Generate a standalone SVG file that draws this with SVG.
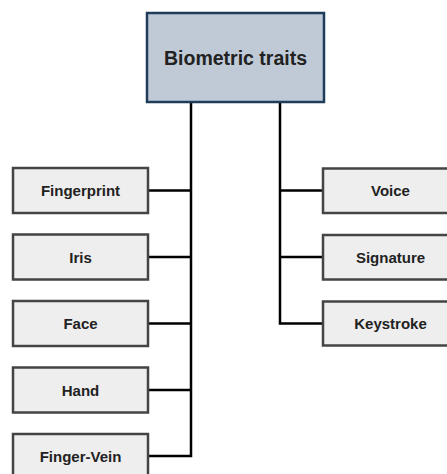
<svg xmlns="http://www.w3.org/2000/svg" width="447" height="474" viewBox="0 0 447 474">
  <style>
    .leaf rect { fill: #eeeeee; stroke: #444444; stroke-width: 2.5; }
    .root rect { fill: #bfcad6; stroke: #1f3d58; stroke-width: 2.5; }
    text { font-family: "Liberation Sans", Arial, sans-serif; font-weight: bold; fill: #222222; text-anchor: middle; }
    .leaf text { font-size: 15px; }
    .root text { font-size: 19.5px; }
    .wire { fill: none; stroke: #000000; stroke-width: 2.5; stroke-linejoin: miter; }
  </style>
  <rect width="447" height="474" fill="#ffffff"/>

  <g id="connectors">
    <path class="wire" d="M191 102 V456 H148"/>
    <path class="wire" d="M148 190.5 H191 M148 257 H191 M148 323.5 H191 M148 390 H191"/>
    <path class="wire" d="M280 102 V323.5 H323"/>
    <path class="wire" d="M280 190.5 H323 M280 257 H323"/>
  </g>

  <g id="biometric-traits" class="root">
    <rect x="147" y="13" width="177" height="89"/>
    <text x="235.5" y="64.5">Biometric traits</text>
  </g>

  <g id="fingerprint" class="leaf">
    <rect x="13" y="168" width="135" height="45"/>
    <text x="80.5" y="196">Fingerprint</text>
  </g>
  <g id="iris" class="leaf">
    <rect x="13" y="234.5" width="135" height="45"/>
    <text x="80.5" y="262.5">Iris</text>
  </g>
  <g id="face" class="leaf">
    <rect x="13" y="301" width="135" height="45"/>
    <text x="80.5" y="329">Face</text>
  </g>
  <g id="hand" class="leaf">
    <rect x="13" y="367.5" width="135" height="45"/>
    <text x="80.5" y="395.5">Hand</text>
  </g>
  <g id="finger-vein" class="leaf">
    <rect x="13" y="434" width="135" height="45"/>
    <text x="80.5" y="461.5">Finger-Vein</text>
  </g>

  <g id="voice" class="leaf">
    <rect x="323" y="168.5" width="135" height="44.5"/>
    <text x="390.5" y="196">Voice</text>
  </g>
  <g id="signature" class="leaf">
    <rect x="323" y="235" width="135" height="44.5"/>
    <text x="390.5" y="262.5">Signature</text>
  </g>
  <g id="keystroke" class="leaf">
    <rect x="323" y="301.5" width="135" height="44"/>
    <text x="390.5" y="329">Keystroke</text>
  </g>
</svg>
